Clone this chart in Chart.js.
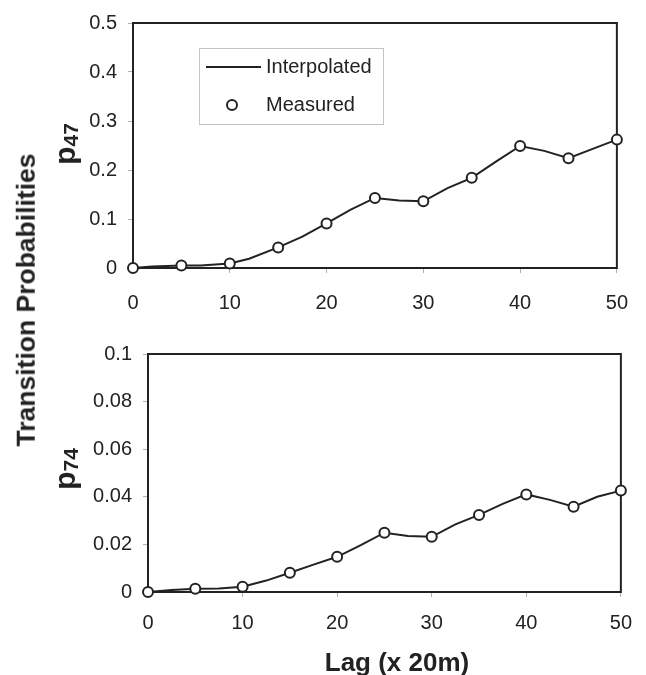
<!DOCTYPE html>
<html><head><meta charset="utf-8">
<script src="https://cdn.jsdelivr.net/npm/chart.js@4"></script>
<style>
html,body{margin:0;padding:0;background:#fff;}
#wrap{position:relative;width:646px;height:675px;overflow:hidden;font-family:"Liberation Sans",Arial,sans-serif;color:#222;}
canvas{position:absolute;left:0;}
.lbl{position:absolute;white-space:nowrap;font-weight:bold;line-height:1;}
.rot{transform:translate(-50%,-50%) rotate(-90deg);}
</style></head><body>
<div id="wrap">
<canvas id="c1" width="646" height="330" style="top:0"></canvas>
<canvas id="c2" width="646" height="345" style="top:330px"></canvas>
<div class="lbl rot" style="left:26px;top:300px;font-size:26.5px">Transition Probabilities</div>
<div class="lbl rot" style="left:65px;top:144px;font-size:30px">p<span style="font-size:21px;vertical-align:-3px">47</span></div>
<div class="lbl rot" style="left:65px;top:469px;font-size:30px">p<span style="font-size:21px;vertical-align:-3px">74</span></div>
<div class="lbl" style="left:397px;top:662px;font-size:26px;transform:translate(-50%,-50%)">Lag (x 20m)</div>
</div>
<script>
// ---- data ----
const measuredLags = [0, 5, 10, 15, 20, 25, 30, 35, 40, 45, 50];
const p47Measured  = [0, 0.005, 0.009, 0.042, 0.091, 0.143, 0.136, 0.184, 0.249, 0.224, 0.262];
const p74Measured  = [0, 0.0014, 0.0022, 0.0081, 0.0148, 0.0249, 0.0232, 0.0324, 0.041, 0.0358, 0.0426];

const p47InterpLags = [0, 2, 5, 7, 10, 12, 15, 17.5, 20, 22.5, 25, 27.5, 30, 32.5, 35, 37.5, 40, 42.5, 45, 47.5, 50, 50.7];
const p47Interp     = [0, 0.003, 0.005, 0.005, 0.009, 0.019, 0.042, 0.064, 0.091, 0.119, 0.143, 0.138, 0.136, 0.163, 0.184, 0.217, 0.249, 0.239, 0.224, 0.243, 0.262, 0.273];

const p74InterpLags = [0, 2.5, 5, 7.5, 10, 12.5, 15, 17.5, 20, 22.5, 25, 27.5, 30, 32.5, 35, 37.5, 40, 42.5, 45, 47.5, 50, 50.7];
const p74Interp     = [0, 0.0008, 0.0014, 0.0015, 0.0022, 0.0048, 0.0081, 0.0115, 0.0148, 0.0197, 0.0249, 0.0235, 0.0232, 0.0284, 0.0324, 0.037, 0.041, 0.0387, 0.0358, 0.04, 0.0426, 0.0442];

const xTickStep = 10;
const seriesNames = ['Interpolated', 'Measured'];
// --------------------------------------

const FONT = '"Liberation Sans", Arial, sans-serif';
const INK = '#222';

function pts(xs, ys){ return xs.map((x,i)=>({x:x, y:ys[i]})); }
function fmt(v){ return String(Number(v.toPrecision(6))); }

const framePlugin = {
  id:'frame',
  beforeDatasetsDraw(chart){
    const a = chart.chartArea, ctx = chart.ctx;
    ctx.save();
    ctx.strokeStyle = INK; ctx.lineWidth = 2;
    ctx.strokeRect(a.left, a.top, a.right - a.left, a.bottom - a.top);
    ctx.restore();
  }
};

const boxLegend = {
  id:'boxLegend',
  afterDraw(chart, args, o){
    if(!o || !o.show) return;
    const ctx = chart.ctx;
    ctx.save();
    ctx.fillStyle = '#fff';
    ctx.fillRect(o.x, o.y, o.w, o.h);
    ctx.strokeStyle = '#c4c4c4'; ctx.lineWidth = 1;
    ctx.strokeRect(o.x + 0.5, o.y + 0.5, o.w, o.h);
    ctx.font = o.fontSize + 'px ' + FONT;
    ctx.textBaseline = 'middle';
    ctx.fillStyle = INK;
    chart.data.datasets.forEach((ds, i) => {
      const cy = o.y + o.rowY[i];
      if (ds.showLine !== false) {
        ctx.strokeStyle = ds.borderColor; ctx.lineWidth = ds.borderWidth;
        ctx.beginPath(); ctx.moveTo(o.x + 7, cy); ctx.lineTo(o.x + 62, cy); ctx.stroke();
      } else {
        ctx.beginPath(); ctx.arc(o.x + 33, cy, ds.pointRadius, 0, Math.PI*2);
        ctx.fillStyle = ds.pointBackgroundColor; ctx.fill();
        ctx.strokeStyle = ds.borderColor; ctx.lineWidth = ds.pointBorderWidth; ctx.stroke();
        ctx.fillStyle = INK;
      }
      ctx.fillText(ds.label, o.x + o.textX, cy);
    });
    ctx.restore();
  }
};

function makeChart(id, interpX, interpY, measY, yMax, yStep, layout, legend){
  return new Chart(document.getElementById(id), {
    type:'scatter',
    data:{ datasets:[
      { label:seriesNames[0], data:pts(interpX, interpY), showLine:true, pointRadius:0, pointHoverRadius:0,
        borderColor:INK, borderWidth:2, tension:0, clip:false, order:2 },
      { label:seriesNames[1], data:pts(measuredLags, measY), showLine:false, pointRadius:5, pointHoverRadius:5,
        pointBorderWidth:2, borderColor:INK, pointBackgroundColor:'#fff', backgroundColor:'#fff', clip:false, order:1 }
    ]},
    options:{
      responsive:false, animation:false, devicePixelRatio:1,
      layout:{ padding:{left:0, right:15, top:layout.top, bottom:0}, autoPadding:false },
      plugins:{ legend:{display:false}, tooltip:{enabled:false}, boxLegend:legend },
      scales:{
        x:{ type:'linear', min:0, max:50,
            ticks:{ stepSize:xTickStep, font:{family:FONT, size:20}, color:INK, padding:layout.xPad, maxRotation:0, callback:fmt },
            grid:{ drawOnChartArea:false, drawTicks:true, tickLength:5, color:'#b0b0b0' },
            border:{ display:false },
            afterFit(s){ s.height = layout.xH; } },
        y:{ type:'linear', min:0, max:yMax,
            ticks:{ stepSize:yStep, font:{family:FONT, size:20}, color:INK, padding:11, callback:fmt },
            grid:{ drawOnChartArea:false, drawTicks:true, tickLength:5, color:'#b0b0b0' },
            border:{ display:false },
            afterFit(s){ s.width = layout.yW; } }
      }
    },
    plugins:[framePlugin, boxLegend]
  });
}

makeChart('c1', p47InterpLags, p47Interp, p47Measured, 0.5, 0.1,
  {top:22, xH:62, yW:133, xPad:18},
  {show:true, x:199, y:48, w:184, h:76, rowY:[19, 57], textX:67, fontSize:20});
makeChart('c2', p74InterpLags, p74Interp, p74Measured, 0.1, 0.02,
  {top:24, xH:83, yW:148, xPad:14},
  {show:false});
</script>
</body></html>
